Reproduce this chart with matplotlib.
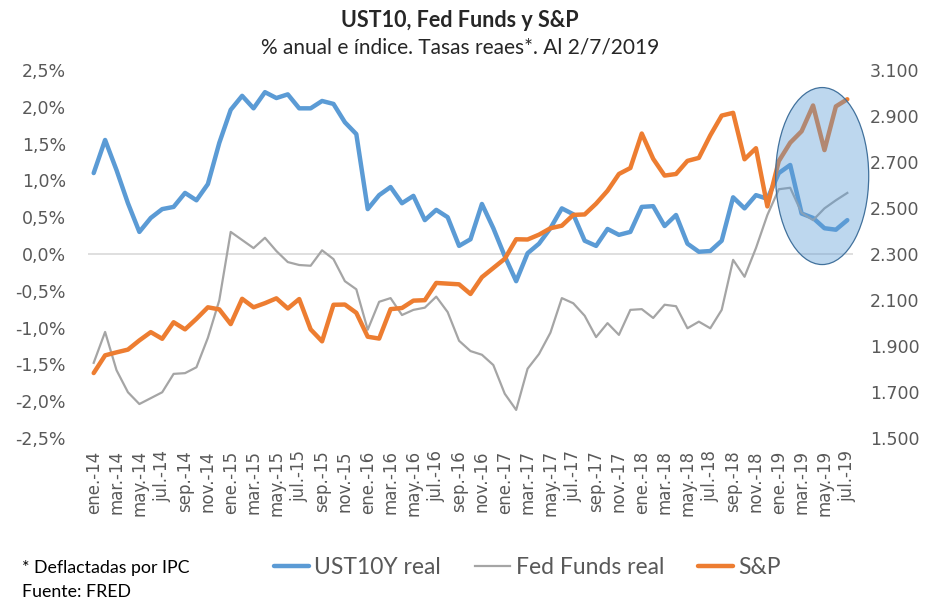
import matplotlib.pyplot as plt
from matplotlib.patches import Ellipse
from matplotlib.ticker import FuncFormatter
import numpy as np

# meses ene-14 .. jul-19
meses = ['ene.', 'feb.', 'mar.', 'abr.', 'may.', 'jun.', 'jul.', 'ago.', 'sep.', 'oct.', 'nov.', 'dic.']
fechas = [f'{m}-{a}' for a in range(14, 20) for m in meses][:67]

ust10_real = [1.10, 1.55, 1.14, 0.69, 0.30, 0.49, 0.61, 0.64, 0.83, 0.73, 0.95, 1.51,
              1.96, 2.15, 1.98, 2.20, 2.12, 2.17, 1.98, 1.98, 2.08, 2.04, 1.79, 1.63,
              0.61, 0.80, 0.91, 0.69, 0.79, 0.46, 0.60, 0.50, 0.11, 0.20, 0.68, 0.35,
              -0.03, -0.37, 0.01, 0.14, 0.35, 0.62, 0.54, 0.18, 0.11, 0.34, 0.26, 0.30,
              0.64, 0.65, 0.38, 0.53, 0.14, 0.03, 0.04, 0.18, 0.77, 0.62, 0.80, 0.75,
              1.10, 1.21, 0.55, 0.49, 0.35, 0.33, 0.46]

fed_funds_real = [-1.48, -1.06, -1.58, -1.88, -2.04, -1.96, -1.88, -1.63, -1.62, -1.54, -1.14, -0.63,
                  0.30, 0.19, 0.08, 0.22, 0.04, -0.11, -0.15, -0.16, 0.05, -0.07, -0.37, -0.48,
                  -1.03, -0.65, -0.60, -0.83, -0.76, -0.73, -0.58, -0.79, -1.18, -1.32, -1.37, -1.51,
                  -1.90, -2.12, -1.56, -1.36, -1.07, -0.60, -0.67, -0.84, -1.13, -0.94, -1.10, -0.76,
                  -0.75, -0.87, -0.69, -0.71, -1.01, -0.92, -1.01, -0.76, -0.08, -0.31, 0.08, 0.53,
                  0.88, 0.90, 0.56, 0.46, 0.62, 0.73, 0.83]

sp500 = [1782, 1859, 1872, 1884, 1924, 1960, 1931, 2003, 1972, 2018, 2068, 2059,
         1995, 2105, 2068, 2086, 2107, 2063, 2104, 1972, 1920, 2079, 2080, 2044,
         1940, 1932, 2060, 2065, 2097, 2099, 2174, 2171, 2168, 2126, 2199, 2239,
         2279, 2364, 2363, 2384, 2412, 2423, 2470, 2472, 2519, 2575, 2648, 2674,
         2824, 2714, 2641, 2648, 2705, 2718, 2816, 2902, 2914, 2712, 2760, 2507,
         2704, 2784, 2834, 2946, 2752, 2942, 2973]

AZUL = '#5B9BD5'
GRIS = '#A5A5A5'
NARANJA = '#ED7D31'
TXT = '#595959'

x = np.arange(len(fechas))

fig = plt.figure(figsize=(9.29, 5.99), dpi=100)
ax = fig.add_axes([0.0947, 0.269, 0.8235, 0.614])
ax2 = ax.twinx()

l1, = ax.plot(x, ust10_real, color=AZUL, lw=3.2, solid_capstyle='round', label='UST10Y real')
l2, = ax.plot(x, fed_funds_real, color=GRIS, lw=1.6, label='Fed Funds real')
ax.axhline(0, color='#D9D9D9', lw=1.2, zorder=0)
l3, = ax2.plot(x, sp500, color=NARANJA, lw=3.2, solid_capstyle='round', label='S&P')

# elipse destacando 2019
ax2.add_patch(Ellipse((63.8, 2639), 8.15, 770, facecolor=AZUL, alpha=0.4,
                      edgecolor='none', zorder=5, clip_on=False))
ax2.add_patch(Ellipse((63.8, 2639), 8.15, 770, facecolor='none',
                      edgecolor='#41719C', lw=0.9, zorder=6, clip_on=False))

ax.set_xlim(-0.5, len(fechas) - 0.5)
ax.set_ylim(-2.5, 2.5)
ax.set_yticks(np.arange(-2.5, 2.51, 0.5))
ax.yaxis.set_major_formatter(FuncFormatter(lambda v, p: f'{v:.1f}%'.replace('.', ',')))
ax2.set_ylim(1500, 3100)
ax2.set_yticks(np.arange(1500, 3101, 200))
ax2.yaxis.set_major_formatter(FuncFormatter(lambda v, p: f'{v:,.0f}'.replace(',', '.')))

ax.set_xticks(x[::2])
ax.set_xticklabels(fechas[::2], rotation=90)

for a in (ax, ax2):
    for s in a.spines.values():
        s.set_visible(False)
ax.tick_params(axis='x', length=0, pad=9, labelsize=12, labelcolor=TXT)
ax.tick_params(axis='y', length=0, pad=16, labelsize=12.5, labelcolor=TXT)
ax2.tick_params(axis='y', length=0, pad=12, labelsize=12.5, labelcolor=TXT)

fig.text(0.495, 0.966, 'UST10, Fed Funds y S&P', ha='center', va='center',
         fontsize=15.5, fontweight='bold', family='Lato', color='#262626')
fig.text(0.495, 0.92, '% anual e índice. Tasas reaes*. Al 2/7/2019', ha='center', va='center',
         fontsize=15, family='Lato', color='#262626')

fig.legend(handles=[l1, l2, l3], loc='center', bbox_to_anchor=(0.568, 0.052), ncol=3,
           frameon=False, handlelength=1.5, handletextpad=0.25, columnspacing=1.5,
           prop={'family': 'Lato', 'size': 16.5}, labelcolor=TXT)

fig.text(0.024, 0.052, '* Deflactadas por IPC', ha='left', va='center',
         fontsize=12.8, family='Lato', color='black')
fig.text(0.024, 0.012, 'Fuente: FRED', ha='left', va='center',
         fontsize=12.8, family='Lato', color='black')

fig.savefig('out.png', dpi=100)
